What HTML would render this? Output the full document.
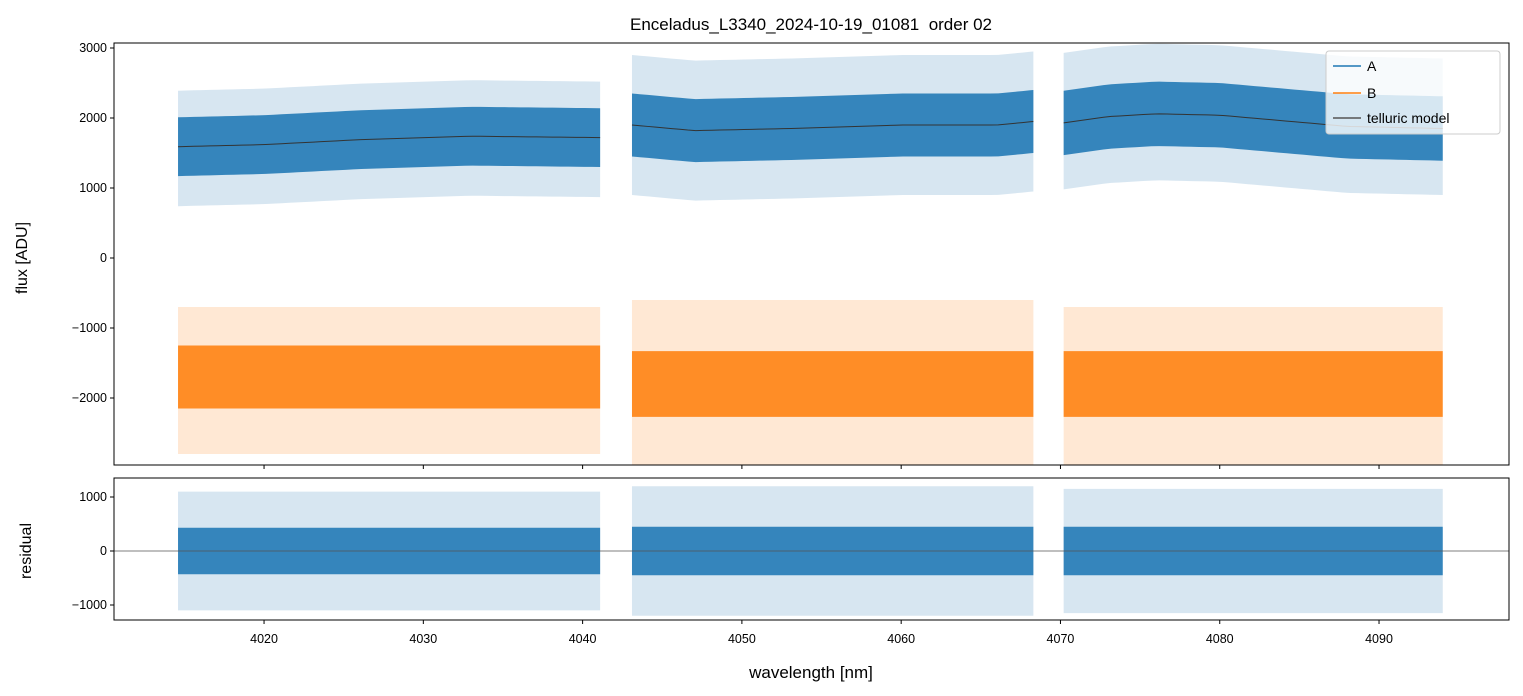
<!DOCTYPE html>
<html><head><meta charset="utf-8">
<style>
body{margin:0;background:#fff;font-family:"Liberation Sans","DejaVu Sans",sans-serif;}
svg{display:block}
text{font-family:"Liberation Sans","DejaVu Sans",sans-serif;fill:#000}
</style></head>
<body>
<svg id="chart" width="1523" height="696" xmlns="http://www.w3.org/2000/svg">
<text x="811" y="30" font-size="17" text-anchor="middle">Enceladus_L3340_2024-10-19_01081 &#160;order 02</text>
<g id="main"></g>
<g id="resid"></g>
<text transform="translate(27,258) rotate(-90)" font-size="16" text-anchor="middle">flux [ADU]</text>
<text transform="translate(31,551) rotate(-90)" font-size="16" text-anchor="middle">residual</text>
<text x="811" y="678" font-size="17" text-anchor="middle">wavelength [nm]</text>
<g>
<rect x="1326" y="51" width="174" height="83" fill="#fff" fill-opacity="0.8" stroke="#ccc" rx="3"/>
<line x1="1333" y1="66" x2="1361" y2="66" stroke="#1f77b4" stroke-width="1.5"/>
<text x="1367" y="71" font-size="14">A</text>
<line x1="1333" y1="93" x2="1361" y2="93" stroke="#ff7f0e" stroke-width="1.5"/>
<text x="1367" y="98" font-size="14">B</text>
<line x1="1333" y1="118" x2="1361" y2="118" stroke="#555" stroke-width="1.5"/>
<text x="1367" y="123" font-size="14">telluric model</text>
</g>
</svg>
<script>
const segStart=[4014.6,4043.1,4070.2];
const segEnd=[4041.1,4068.3,4094.0];
const tellWl=[[4014.6,4020,4026,4033,4041.1],[4043.1,4047,4053,4060,4066,4068.3],[4070.2,4073,4076,4080,4084,4088,4094]];
const tellFlux=[[1590,1620,1690,1740,1720],[1900,1820,1850,1900,1900,1950],[1930,2020,2060,2040,1960,1880,1850]];
const aCoreHalf=[420,450,460];
const aSpikeLow=[850,1000,950];
const aSpikeHigh=[800,1000,1000];
const bCenter=[-1700,-1800,-1800];
const bCoreHalf=[450,470,470];
const bSpikeLow=[-2800,-2950,-2950];
const bSpikeHigh=[-700,-600,-700];
const residCoreHalf=[430,450,450];
const residSpike=[1100,1200,1150];
const yTicks=[3000,2000,1000,0,-1000,-2000];
const rTicks=[1000,0,-1000];
const xTicks=[4020,4030,4040,4050,4060,4070,4080,4090];

const NS='http://www.w3.org/2000/svg';
const L=114,R=1509;
const x=w=>L+(w-4010.58)*(R-L)/(4098.16-4010.58);
const y=v=>258-v*0.07;
const yr=v=>551-v*0.054;
function mk(t,a,p){const e=document.createElementNS(NS,t);for(const k in a)e.setAttribute(k,a[k]);p.appendChild(e);return e;}
function interp(ws,fs,w){for(let i=0;i<ws.length-1;i++){if(w<=ws[i+1]){const t=(w-ws[i])/(ws[i+1]-ws[i]);return fs[i]+t*(fs[i+1]-fs[i]);}}return fs[fs.length-1];}
function band(g,ws,lo,hi,fy,color,op,name){
  let pts=[];ws.forEach((w,i)=>pts.push(x(w)+','+fy(hi[i])));
  for(let i=ws.length-1;i>=0;i--)pts.push(x(ws[i])+','+fy(lo[i]));
  const p=mk('polygon',{points:pts.join(' '),fill:color,'fill-opacity':op},g);
  
  
}
const main=document.getElementById('main'),res=document.getElementById('resid');
const defs=mk('defs',{},main);
const c1=mk('clipPath',{id:'c1'},defs);mk('rect',{x:L,y:43,width:R-L,height:422},c1);
const c2=mk('clipPath',{id:'c2'},defs);mk('rect',{x:L,y:478,width:R-L,height:142},c2);
const gm=mk('g',{'clip-path':'url(#c1)'},main);
const gr=mk('g',{'clip-path':'url(#c2)'},res);
for(let s=0;s<3;s++){
  const ws=[];for(let w=segStart[s];w<segEnd[s];w+=0.5)ws.push(w);ws.push(segEnd[s]);
  const m=ws.map(w=>interp(tellWl[s],tellFlux[s],w));
  band(gm,ws,m.map(v=>v-aSpikeLow[s]),m.map(v=>v+aSpikeHigh[s]),y,'#1f77b4',0.18,'series-a-spikes');
  band(gm,ws,m.map(v=>v-aCoreHalf[s]),m.map(v=>v+aCoreHalf[s]),y,'#1f77b4',0.88,'series-a');
  band(gm,ws,ws.map(()=>bSpikeLow[s]),ws.map(()=>bSpikeHigh[s]),y,'#ff7f0e',0.18,'series-b-spikes');
  band(gm,ws,ws.map(()=>bCenter[s]-bCoreHalf[s]),ws.map(()=>bCenter[s]+bCoreHalf[s]),y,'#ff7f0e',0.88,'series-b');
  const tl=mk('polyline',{points:ws.map((w,i)=>x(w)+','+y(m[i])).join(' '),fill:'none',stroke:'#333','stroke-width':1},gm);
  
  
  band(gr,ws,ws.map(()=>-residSpike[s]),ws.map(()=>residSpike[s]),yr,'#1f77b4',0.18,'residual-spikes');
  band(gr,ws,ws.map(()=>-residCoreHalf[s]),ws.map(()=>residCoreHalf[s]),yr,'#1f77b4',0.88,'residual-series');
}
mk('line',{x1:L,x2:R,y1:yr(0),y2:yr(0),stroke:'#555','stroke-width':0.8},res);
mk('rect',{x:L,y:43,width:R-L,height:422,fill:'none',stroke:'#000','stroke-width':1},main);
mk('rect',{x:L,y:478,width:R-L,height:142,fill:'none',stroke:'#000','stroke-width':1},res);
yTicks.forEach(v=>{mk('line',{x1:L-4,x2:L,y1:y(v),y2:y(v),stroke:'#000'},main);
  const t=mk('text',{x:L-7,y:y(v)+4,'font-size':12.5,'text-anchor':'end'},main);t.textContent=v<0?'\u2212'+(-v):v;
  });
rTicks.forEach(v=>{mk('line',{x1:L-4,x2:L,y1:yr(v),y2:yr(v),stroke:'#000'},res);
  const t=mk('text',{x:L-7,y:yr(v)+4,'font-size':12.5,'text-anchor':'end'},res);t.textContent=v<0?'\u2212'+(-v):v;
  });
xTicks.forEach(v=>{mk('line',{x1:x(v),x2:x(v),y1:465,y2:469,stroke:'#000'},main);
  mk('line',{x1:x(v),x2:x(v),y1:620,y2:624,stroke:'#000'},res);
  const t=mk('text',{x:x(v),y:643,'font-size':12.5,'text-anchor':'middle'},res);t.textContent=v;
  });
</script>
</body></html>
